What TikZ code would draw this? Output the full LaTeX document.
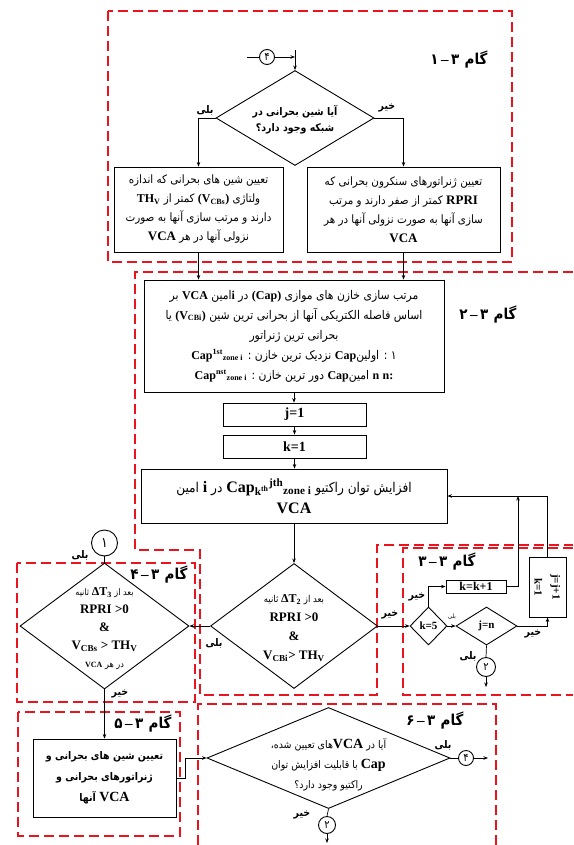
\documentclass[tikz,border=0pt]{standalone}
\usepackage{fontspec}
\setmainfont{Liberation Serif}
\newfontfamily\arf[Script=Arabic,FakeStretch=0.9]{DejaVu Sans}
\newfontfamily\latf{Liberation Serif}
\TeXXeTstate=1
\usetikzlibrary{arrows.meta,shapes.geometric}
\newcommand\fa[1]{{\arf\beginR #1\endR}}
\newcommand\la[2][12]{\hbox{\beginL\latf\bfseries\fontsize{#1}{#1}\selectfont #2\endL}}
\newcommand\gam[1]{\hbox{\arf\bfseries #1}\hbox{\latf\bfseries\,–\,}\hbox{\arf\bfseries ۳}\hspace{0.35em}\hbox{\arf\bfseries گام}}
\begin{document}
\begin{tikzpicture}[x=1pt,y=-1pt,
  ln/.style={line width=0.7pt},
  arr/.style={ln,-{Stealth[length=4.5pt,width=3.5pt]}},
  reg/.style={draw={rgb,255:red,235;green,20;blue,30}, dash pattern=on 10pt off 5pt, line width=1.4pt},
  bx/.style={draw, line width=0.9pt, inner sep=1pt, align=center},
  dia/.style={draw, diamond, line width=0.9pt, inner sep=0pt},
  circ/.style={draw, circle, line width=0.9pt, inner sep=0pt, font=\fontsize{11}{11}\selectfont},
  yn/.style={inner sep=0pt, font=\bfseries\fontsize{10.5}{10.5}\selectfont},
  gamlbl/.style={inner sep=0pt, font=\fontsize{15}{15}\selectfont},
  dtxt/.style={inner sep=0pt, align=center}]
\useasboundingbox (0,0) rectangle (573,845);

% red dashed regions
\draw[reg] (108,11) rectangle (512,262);
\draw[reg] (573,272) -- (135,272) -- (135,550) -- (200,550) -- (200,695) -- (377,695) -- (377,545) -- (573,545);
\draw[reg] (573,548) -- (403,548) -- (403,695) -- (573,695);
\draw[reg] (17,563) rectangle (195,702);
\draw[reg] (18,712) rectangle (180,836);
\draw[reg] (198,845) -- (198,704) -- (496,704) -- (496,845);

% step labels
\node[gamlbl] (g1) at (459,60) {\gam{۱}};
\node[gamlbl] (g2) at (488,315) {\gam{۲}};
\node[gamlbl] (g3) at (447,562) {\gam{۳}};
\node[gamlbl] (g4) at (159,575) {\gam{۴}};
\node[gamlbl] (g5) at (143,723) {\gam{۵}};
\node[gamlbl] (g6) at (435,721) {\gam{۶}};

% step 3-1
\node[circ, minimum size=15pt] (c4a) at (267,57) {\fa{۴}};
\coordinate (c4in) at (247,57);
\coordinate (vtop) at (295,50);
\node[dia, minimum width=158pt, minimum height=95pt] (d1) at (295,118) {};
\node[dtxt, font=\bfseries\fontsize{10.5}{16}\selectfont] (d1t) at (295,120) {\fa{آیا شین بحرانی در}\\\fa{شبکه وجود دارد؟}};
\node[yn] (y1) at (205,110) {\fa{بلی}};
\node[yn] (n1) at (387,108) {\fa{خیر}};

\node[bx, minimum width=169pt, minimum height=85pt, font=\fontsize{11.5}{19}\selectfont] (b1) at (198.5,209.5)
 {\fa{تعیین شین های بحرانی که اندازه}\\
  \fa{ولتاژی \la{(V\textsubscript{CBs})} کمتر از \la{TH\textsubscript{V}}}\\
  \fa{دارند و مرتب سازی آنها به صورت}\\
  \fa{نزولی آنها در هر \la[13]{VCA}}};
\node[bx, minimum width=193pt, minimum height=85pt, font=\fontsize{11.5}{19}\selectfont] (b2) at (403.5,209.5)
 {\fa{تعیین ژنراتورهای سنکرون بحرانی که}\\
  \fa{\la[13]{RPRI} کمتر از صفر دارند و مرتب}\\
  \fa{سازی آنها به صورت نزولی آنها در هر}\\
  \la[13]{VCA}};

% step 3-2
\node[bx, minimum width=300pt, minimum height=112pt, font=\fontsize{12}{20}\selectfont] (box2) at (294,336)
 {\fa{مرتب سازی خازن های موازی \la{(Cap)} در \la{i}امین \la{VCA} بر}\\
  \fa{اساس فاصله الکتریکی آنها از بحرانی ترین شین \la{(V\textsubscript{CBi})} یا}\\
  \fa{بحرانی ترین ژنراتور}\\
  \fa{۱ : اولین\la{Cap} نزدیک ترین خازن : \la{Cap\textsuperscript{1st}\textsubscript{zone i}}}\\
  \fa{\la{n:} \la{n} امین\la{Cap} دور ترین خازن : \la{Cap\textsuperscript{nst}\textsubscript{zone i}}}};
\node[bx, minimum width=143pt, minimum height=23pt, font=\latf\bfseries\fontsize{14}{14}\selectfont] (j1) at (294.5,414.5) {j=1};
\node[bx, minimum width=143pt, minimum height=23pt, font=\latf\bfseries\fontsize{14}{14}\selectfont] (k1) at (294.5,446.5) {k=1};
\node[bx, minimum width=306pt, minimum height=54pt, font=\fontsize{13.5}{21}\selectfont] (big) at (294,496)
 {\fa{افزایش توان راکتیو \la[16]{Cap\textsubscript{k\textsuperscript{th}}\textsuperscript{jth}\textsubscript{zone i}} در \la[16]{i} امین}\\
  \la[16]{VCA}};

\node[dia, minimum width=167pt, minimum height=125pt] (dm) at (294,626) {};
\node[dtxt, font=\fontsize{9.5}{19}\selectfont] (dmt) at (294,628)
 {\fa{بعد از \la[12]{ΔT\textsubscript{2}} ثانیه}\\
  \la[13]{RPRI >0}\\ \la[13]{\&}\\ \la[13]{V\textsubscript{CBi}> TH\textsubscript{V}}};
\node[yn] (n2) at (390,615) {\fa{خیر}};
\node[yn] (y2) at (214,643) {\fa{بلی}};

% step 3-3
\node[dia, minimum width=37pt, minimum height=38pt] (k5) at (428.5,626) {};
\node[inner sep=0pt, font=\latf\bfseries\fontsize{11}{11}\selectfont] (k5t) at (428.5,626) {k=5};
\node[dia, minimum width=61pt, minimum height=38pt] (jn) at (486.5,626) {};
\node[inner sep=0pt, font=\latf\bfseries\fontsize{11}{11}\selectfont] (jnt) at (486.5,626) {j=n};
\node[bx, inner sep=0pt, minimum width=60pt, minimum height=13pt, font=\latf\bfseries\fontsize{12}{12}\selectfont] (kk) at (476,586.5) {k=k+1};
\node[bx, minimum width=37pt, minimum height=60pt] (jj) at (547.5,587) {};
\node[rotate=-90, inner sep=0pt, align=center, font=\latf\bfseries\fontsize{11}{18}\selectfont] (jjt) at (547.5,587) {j=j+1\\k=1};
\node[circ, minimum size=19pt] (c2a) at (486,667) {\fa{۲}};
\coordinate (c2aout) at (486,687);
\coordinate (fb) at (518,496);
\node[yn] (n3) at (417,597) {\fa{خیر}};
\node[inner sep=0pt, font=\fontsize{6}{6}\selectfont] (y3) at (452,617) {\fa{بلی}};
\node[yn] (n4) at (533,634) {\fa{خیر}};
\node[yn] (y4) at (468,656) {\fa{بلی}};

% step 3-4
\node[circ, minimum size=26pt, font=\fontsize{14}{14}\selectfont] (c1) at (104.5,543) {\fa{۱}};
\node[yn] (y5) at (80,555) {\fa{بلی}};
\node[dia, minimum width=169pt, minimum height=126pt] (d4) at (104.5,626) {};
\node[dtxt, font=\fontsize{9}{18}\selectfont] (d4t) at (104.5,629)
 {\fa{بعد از \la[12]{ΔT\textsubscript{3}} ثانیه}\\
  \la[13]{RPRI >0}\\ \la[13]{\&}\\ \la[13]{V\textsubscript{CBs} > TH\textsubscript{V}}\\
  \fa{در هر \la[8]{VCA}}};
\node[yn] (n5) at (120,694) {\fa{خیر}};

% step 3-5
\node[bx, minimum width=143pt, minimum height=78pt, font=\bfseries\fontsize{10.5}{21}\selectfont] (b5) at (104.5,778)
 {\fa{تعیین شین های بحرانی و}\\
  \fa{ژنراتورهای بحرانی و}\\
  \fa{\la[14]{VCA} آنها}};
\coordinate (j5a) at (185,778);
\coordinate (j5b) at (185,758);

% step 3-6
\node[dia, minimum width=243pt, minimum height=101pt] (d6) at (328.5,758) {};
\node[dtxt, font=\fontsize{10.5}{20}\selectfont] (d6t) at (328.5,765)
 {\fa{آیا در \la[14]{VCA}های تعیین شده،}\\
  \fa{\la[14]{Cap} با قابلیت افزایش توان}\\
  \fa{راکتیو وجود دارد؟}};
\node[circ, minimum size=15pt] (c4b) at (466,758) {\fa{۴}};
\coordinate (c4out) at (488,758);
\node[circ, minimum size=17pt] (c2b) at (327,825) {\fa{۲}};
\coordinate (c2out) at (327,843);
\node[yn] (y6) at (443,745) {\fa{بلی}};
\node[yn] (n6) at (302,815) {\fa{خیر}};

% connectors
\draw[ln] (c4in) -- (c4a.west);
\draw[arr] (c4a.east) -- (c4a.east -| vtop);
\draw[arr] (vtop) -- (d1.north);
\draw[arr] (d1.west) -| (b1.north);
\draw[arr] (d1.east) -| (b2.north);
\draw[arr] (b1.south) -- (b1.south |- box2.north);
\draw[arr] (b2.south) -- (b2.south |- box2.north);
\draw[arr] (box2.south) -- (box2.south |- j1.north);
\draw[arr] (j1.south) -- (k1.north);
\draw[arr] (k1.south) -- (k1.south |- big.north);
\draw[arr] (big.south) -- (dm.north);
\draw[arr] (dm.east) -- (k5.west);
\draw[arr] (k5.east) -- (jn.west);
\draw[arr] (k5.north) |- (kk.west);
\draw[arr] (kk.east) -| (fb);
\draw[arr] (jj.north) |- (big.east);
\draw[arr] (jn.east) -| (jj.south);
\draw[ln] (jn.south) -- (c2a.north);
\draw[arr] (c2a.south) -- (c2aout);
\draw[arr] (dm.west) -- (d4.east);
\draw[ln] (c1.south) -- (d4.north);
\draw[arr] (d4.south) -- (b5.north);
\draw[arr] (b5.east) -- (j5a) -- (j5b) -- (d6.west);
\draw[ln] (d6.east) -- (c4b.west);
\draw[arr] (c4b.east) -- (c4out);
\draw[ln] (d6.south) -- (c2b.north);
\draw[arr] (c2b.south) -- (c2out);
\end{tikzpicture}
\end{document}
